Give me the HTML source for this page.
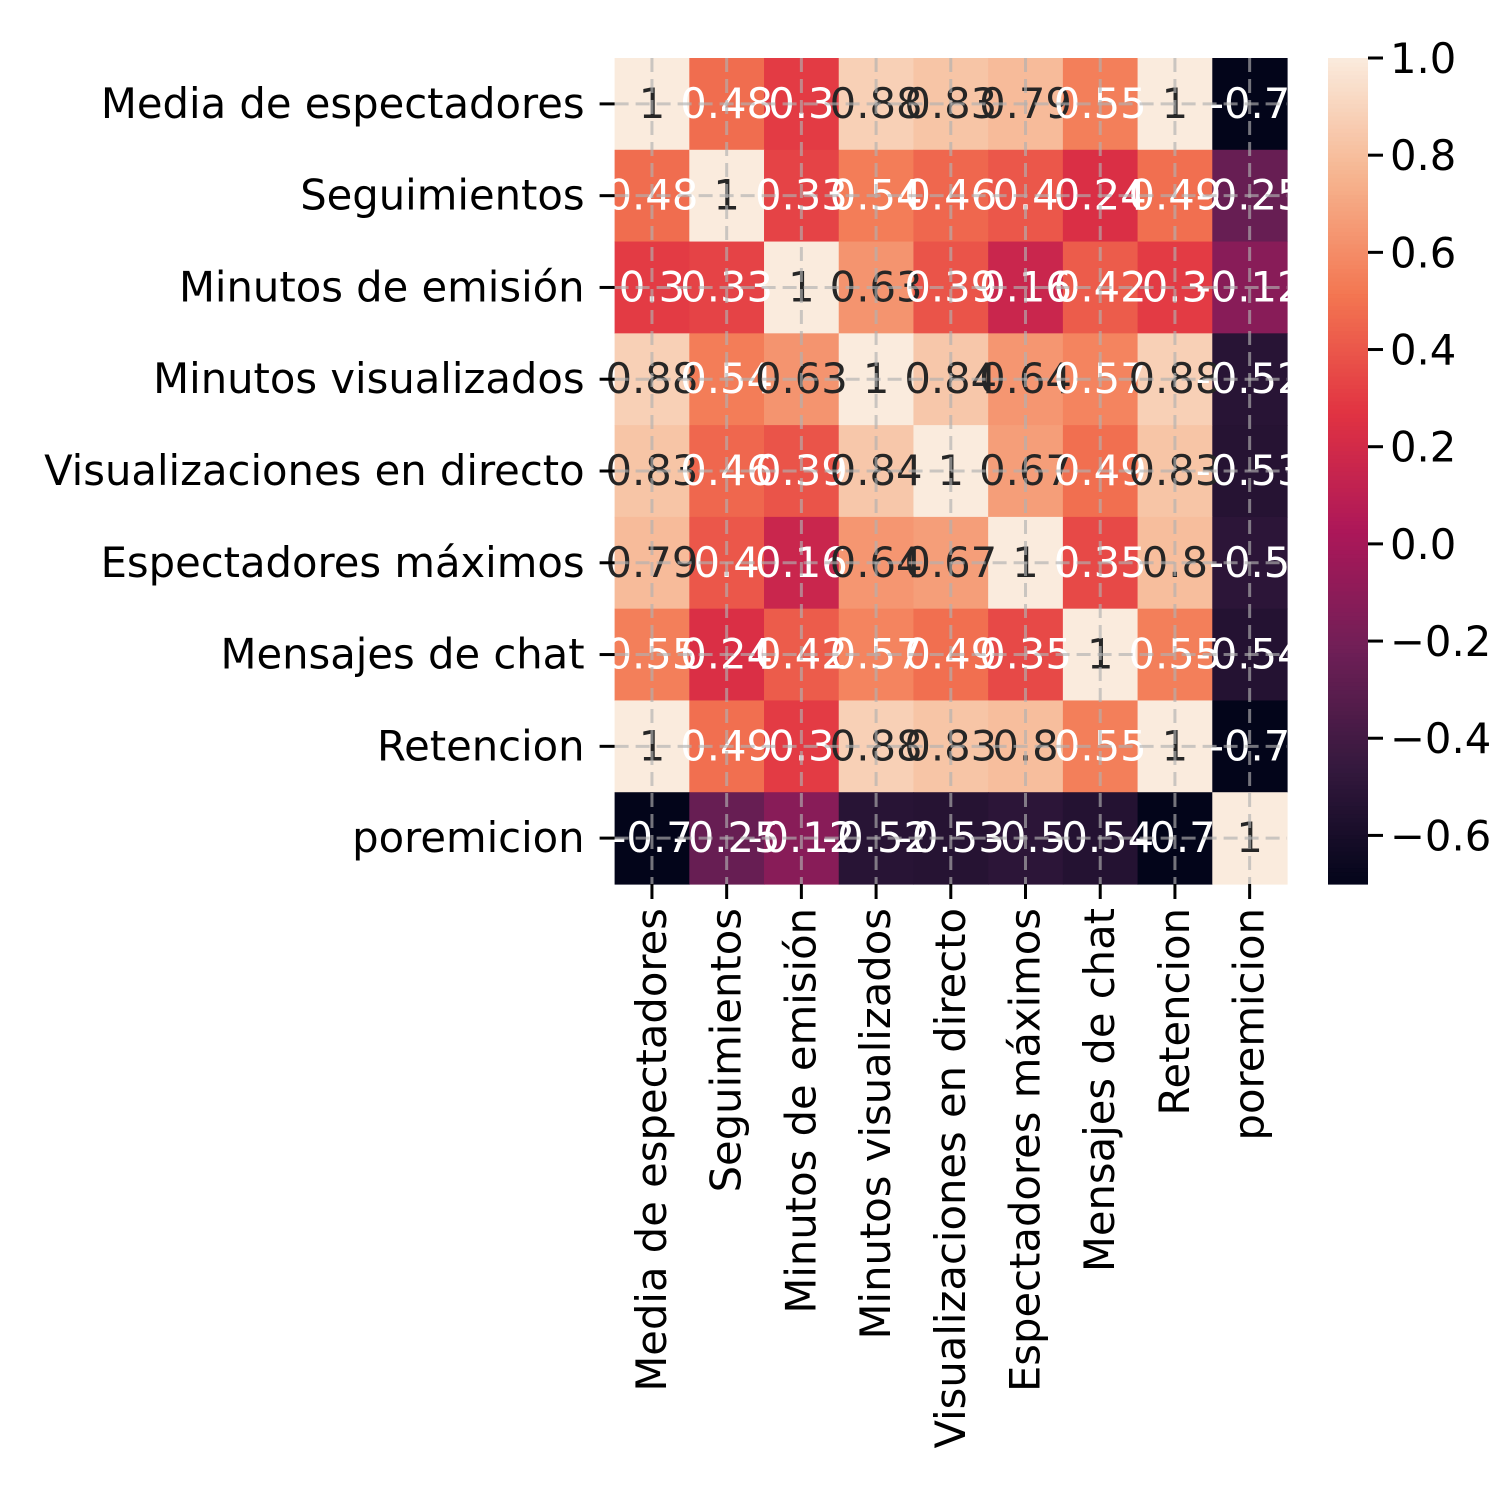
<!DOCTYPE html>
<html><head><meta charset="utf-8"><style>
html,body{margin:0;padding:0;background:#fff;}
svg{display:block;font-family:"DejaVu Sans","Liberation Sans",sans-serif;}
</style></head><body>
<svg id="chart" width="1500" height="1500" viewBox="0 0 1500 1500" xmlns="http://www.w3.org/2000/svg">
<rect width="1500" height="1500" fill="#fff"/>
<g id="cells"></g>
<g id="annots"></g>
<g id="grid"></g>
<g id="axes"></g>
<g id="cbar"></g>
</svg>
<script>
const labels = ["Media de espectadores","Seguimientos","Minutos de emisión","Minutos visualizados","Visualizaciones en directo","Espectadores máximos","Mensajes de chat","Retencion","poremicion"];
const row0 = [1,0.48,0.3,0.88,0.83,0.79,0.55,1,-0.7];
const row1 = [0.48,1,0.33,0.54,0.46,0.40,0.24,0.49,-0.25];
const row2 = [0.3,0.33,1,0.63,0.39,0.16,0.42,0.3,-0.12];
const row3 = [0.88,0.54,0.63,1,0.84,0.64,0.57,0.88,-0.52];
const row4 = [0.83,0.46,0.39,0.84,1,0.67,0.49,0.83,-0.53];
const row5 = [0.79,0.40,0.16,0.64,0.67,1,0.35,0.8,-0.5];
const row6 = [0.55,0.24,0.42,0.57,0.49,0.35,1,0.55,-0.54];
const row7 = [1,0.49,0.3,0.88,0.83,0.8,0.55,1,-0.7];
const row8 = [-0.7,-0.25,-0.12,-0.52,-0.53,-0.5,-0.54,-0.7,1];
const matrix = [row0,row1,row2,row3,row4,row5,row6,row7,row8];
const cbarTicks = [1.0,0.8,0.6,0.4,0.2,0.0,-0.2,-0.4,-0.6];
const vmin = -0.70, vmax = 1.0;

const NS="http://www.w3.org/2000/svg";
const L=614.6, R=1287, T=58, B=884;
const n=labels.length, cw=(R-L)/n, ch=(B-T)/n;
const xc=i=>L+cw*(i+0.5), yc=i=>T+ch*(i+0.5);
const stops=[[0,[3,5,26]],[0.143,[53,25,62]],[0.286,[112,31,87]],[0.429,[173,23,89]],[0.571,[225,51,66]],[0.714,[243,118,81]],[0.857,[246,180,143]],[1,[250,235,221]]];
function cmap(v){let t=(v-vmin)/(vmax-vmin);t=Math.max(0,Math.min(1,t));
 for(let k=1;k<stops.length;k++){if(t<=stops[k][0]){const a=stops[k-1],b=stops[k];const f=(t-a[0])/(b[0]-a[0]);
  return a[1].map((c,j)=>Math.round(c+(b[1][j]-c)*f));}}return stops[stops.length-1][1];}
function lin(c){c/=255;return c<=0.03928?c/12.92:Math.pow((c+0.055)/1.055,2.4);}
function mk(tag,attrs,parent){const e=document.createElementNS(NS,tag);for(const k in attrs)e.setAttribute(k,attrs[k]);parent.appendChild(e);return e;}
const gC=document.getElementById('cells'),gA=document.getElementById('annots'),gG=document.getElementById('grid'),gX=document.getElementById('axes'),gB=document.getElementById('cbar');
matrix.forEach((row,r)=>row.forEach((v,c)=>{
 const col=cmap(v);
 const rect=mk('rect',{x:L+cw*c,y:T+ch*r,width:cw+0.6,height:ch+0.6,fill:`rgb(${col})`},gC);
 
 
 const lum=0.2126*lin(col[0])+0.7152*lin(col[1])+0.0722*lin(col[2]);
 const t=mk('text',{x:xc(c),y:yc(r)+14,'text-anchor':'middle','font-size':'41.7',fill:lum>0.408?'#262626':'#ffffff'},gA);
 t.textContent=parseFloat(v.toPrecision(2)).toString();
 
 
}));
for(let i=0;i<n;i++){
 const gv=mk('line',{x1:xc(i),x2:xc(i),y1:T,y2:B,stroke:'rgba(176,176,176,0.65)','stroke-width':3,'stroke-dasharray':'14 7'},gG);
 
 
 const gh=mk('line',{x1:L,x2:R,y1:yc(i),y2:yc(i),stroke:'rgba(176,176,176,0.65)','stroke-width':3,'stroke-dasharray':'14 7'},gG);
 
 
 mk('line',{x1:L-15,x2:L,y1:yc(i),y2:yc(i),stroke:'#000','stroke-width':3},gX);
 mk('line',{x1:xc(i),x2:xc(i),y1:B,y2:B+15,stroke:'#000','stroke-width':3},gX);
 const yl=mk('text',{x:L-30,y:yc(i)+14,'text-anchor':'end','font-size':'41.7',fill:'#000'},gX);
 yl.textContent=labels[i];
 
 
 const xl=mk('text',{x:0,y:0,'text-anchor':'end','font-size':'41.7',fill:'#000',transform:`translate(${xc(i)+14},${B+24}) rotate(-90)`},gX);
 xl.textContent=labels[i];
 
 
}
// colorbar
const CL=1328,CR=1368;
const cy=v=>B-(v-vmin)/(vmax-vmin)*(B-T);
for(let k=0;k<200;k++){const v0=vmin+(vmax-vmin)*k/200,v1=vmin+(vmax-vmin)*(k+1)/200;
 mk('rect',{x:CL,y:cy(v1),width:CR-CL,height:cy(v0)-cy(v1)+0.6,fill:`rgb(${cmap((v0+v1)/2)})`},gB);}
cbarTicks.forEach(v=>{
 mk('line',{x1:CR,x2:CR+15,y1:cy(v),y2:cy(v),stroke:'#000','stroke-width':3},gB);
 const t=mk('text',{x:CR+22,y:cy(v)+15,'font-size':'41.7',fill:'#000'},gB);
 t.textContent=(v<0?'\u2212':'')+Math.abs(v).toFixed(1);
 
 
});
</script>
</body></html>
